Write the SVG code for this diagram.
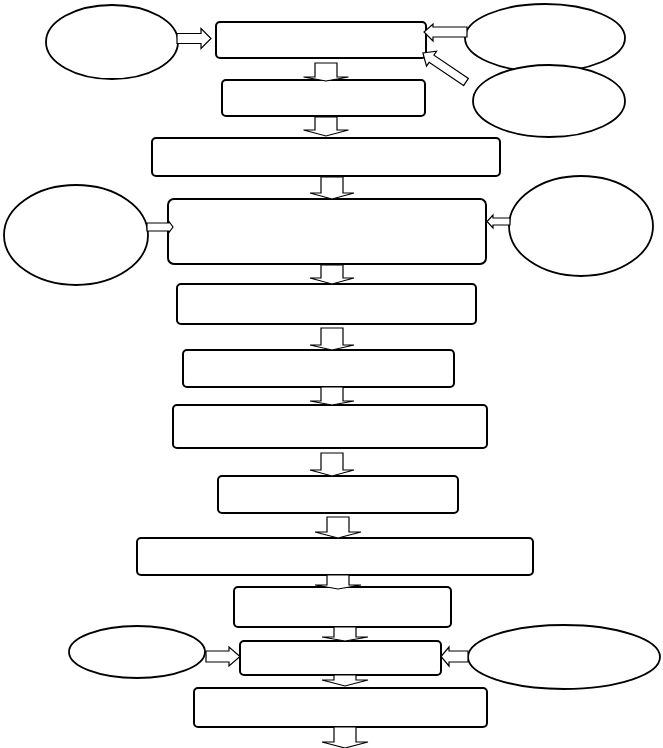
<svg xmlns="http://www.w3.org/2000/svg" width="663" height="748" viewBox="0 0 663 748">
<style>
.box{fill:#fff;stroke:#000;stroke-width:2}
.ell{fill:#fff;stroke:#000;stroke-width:1.8}
.arr{fill:#fff;stroke:#000;stroke-width:1.2;stroke-linejoin:miter}
</style>
<rect width="663" height="748" fill="#fff"/>
<g id="nodes">
<g id="e1"><ellipse class="ell" cx="112" cy="42" rx="66" ry="37"/></g>
<g id="e2"><ellipse class="ell" cx="545" cy="38" rx="80" ry="34"/></g>
<g id="e3"><ellipse class="ell" cx="549" cy="101" rx="76" ry="36"/></g>
<g id="e4"><ellipse class="ell" cx="76" cy="235" rx="72" ry="50"/></g>
<g id="e5"><ellipse class="ell" cx="581" cy="226" rx="72" ry="50"/></g>
<g id="e6"><ellipse class="ell" cx="137" cy="652" rx="68" ry="26"/></g>
<g id="e7"><ellipse class="ell" cx="564" cy="657" rx="96" ry="32"/></g>
<g id="bA"><rect class="box" x="216" y="22" width="210" height="36" rx="4"/></g>
<g id="bB"><rect class="box" x="222" y="80" width="203" height="36" rx="4"/></g>
<g id="bC"><rect class="box" x="152" y="138" width="348" height="38" rx="4"/></g>
<g id="bD"><rect class="box" x="168" y="199" width="318" height="65" rx="6"/></g>
<g id="bE"><rect class="box" x="177" y="284" width="299" height="40" rx="4"/></g>
<g id="bF"><rect class="box" x="183" y="350" width="271" height="37" rx="4"/></g>
<g id="bG"><rect class="box" x="173" y="405" width="314" height="43" rx="4"/></g>
<g id="bH"><rect class="box" x="218" y="476" width="240" height="37" rx="4"/></g>
<g id="bI"><rect class="box" x="137" y="538" width="396" height="37" rx="4"/></g>
<g id="bJ"><rect class="box" x="234" y="587" width="217" height="40" rx="4"/></g>
<g id="bK"><rect class="box" x="240" y="641" width="201" height="34" rx="4"/></g>
<g id="bL"><rect class="box" x="194" y="688" width="293" height="39" rx="4"/></g>
</g>
<g id="connectors">
<polygon class="arr" points="177,33.5 201,33.5 201,28.5 211,38.5 201,48.5 201,43.5 177,43.5"/>
<polygon class="arr" points="467,27 433,27 433,24 424,32 433,41 433,37 467,37"/>
<polygon class="arr" transform="translate(466,82) rotate(214)" points="0,-4.3 41.6,-4.3 41.6,-9 52,0 41.6,9 41.6,4.3 0,4.3"/>
<polygon class="arr" points="147,223 169,223 169,221.5 173,227 169,232.5 169,231 147,231"/>
<polygon class="arr" points="510,218 493,218 493,215 487,221.5 493,228 493,225 510,225"/>
<polygon class="arr" points="206,651 229,651 229,647 240,656.5 229,666 229,662 206,662"/>
<polygon class="arr" points="468,651 449,651 449,647 441,656.5 449,666 449,662 468,662"/>
<polygon class="arr" points="315,63 337,63 337,77 348.5,77 326,81 303.5,77 315,77"/>
<polygon class="arr" points="315,117 337,117 337,130 348.5,130 326,136 303.5,130 315,130"/>
<polygon class="arr" points="321,177 343,177 343,193 354,193 332,199 310,193 321,193"/>
<polygon class="arr" points="321,265 343,265 343,278 354,278 332,284 310,278 321,278"/>
<polygon class="arr" points="321,328 343,328 343,345 354,345 332,350 310,345 321,345"/>
<polygon class="arr" points="321,387 343,387 343,401 354,401 332,405 310,401 321,401"/>
<polygon class="arr" points="321,453 343,453 343,470 354,470 332,476 310,470 321,470"/>
<polygon class="arr" points="327,517 349,517 349,532 361,532 338,538 315,532 327,532"/>
<polygon class="arr" points="327,575 349,575 349,585 361,585 338,589 315,585 327,585"/>
<polygon class="arr" points="334,627 356,627 356,637 368,637 345,641 322,637 334,637"/>
<polygon class="arr" points="334,675 356,675 356,680 368,680 345,686 322,680 334,680"/>
<polygon class="arr" points="334,727 356,727 356,742 368,742 345,748 322,742 334,742"/>
</g>
</svg>
